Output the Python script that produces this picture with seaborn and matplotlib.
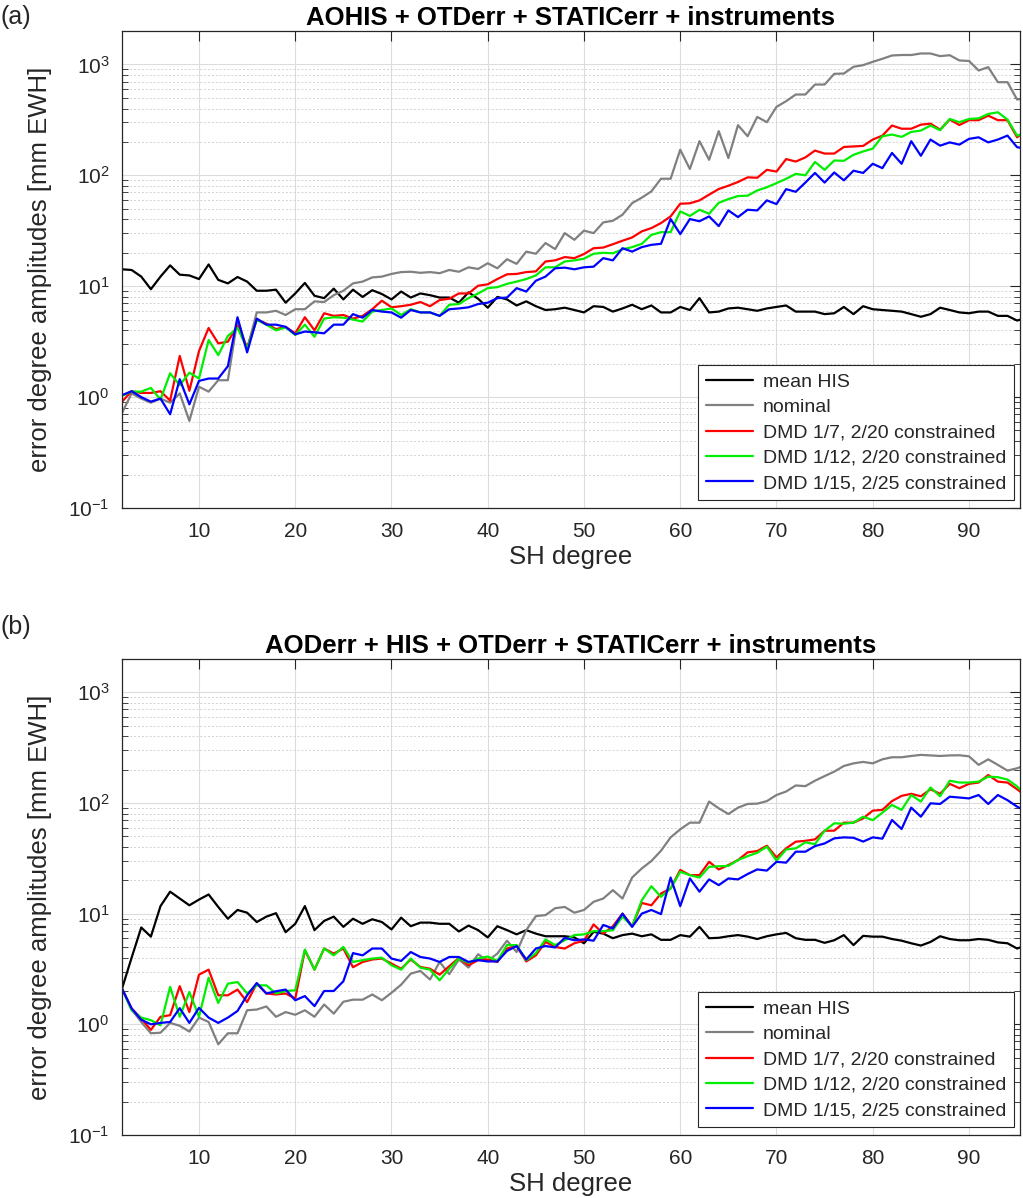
import numpy as np
import pandas as pd
import matplotlib
matplotlib.use("Agg")
import matplotlib.pyplot as plt
import matplotlib.ticker as mticker
import seaborn as sns

# ---------------- data ----------------
degrees = list(range(2, 97))

series_names = ["mean HIS", "nominal", "DMD 1/7, 2/20 constrained",
                "DMD 1/12, 2/20 constrained", "DMD 1/15, 2/25 constrained"]
series_colors = ["#000000", "#808080", "#ff0000", "#00ee00", "#0000ff"]

titles = ["AOHIS + OTDerr + STATICerr + instruments",
          "AODerr + HIS + OTDerr + STATICerr + instruments"]
panel_tags = ["(a)", "(b)"]
x_ticks = [10, 20, 30, 40, 50, 60, 70, 80, 90]

# panel (a)
a_mean_his = [14.2, 14.0, 12.2, 9.4, 12.2, 15.4, 12.7, 12.5, 11.6, 15.7,
              11.4, 10.6, 12.1, 11.0, 9.1, 9.1, 9.3, 7.1, 8.6, 10.7,
              8.2, 7.8, 9.5, 7.6, 9.3, 8.0, 9.2, 8.5, 7.6, 8.95,
              7.9, 8.6, 8.3, 7.9, 7.9, 7.1, 8.8, 7.7, 6.4, 8.0,
              7.6, 6.7, 7.3, 6.6, 6.1, 6.2, 6.4, 6.1, 5.8, 6.6,
              6.5, 5.9, 6.3, 6.8, 6.2, 6.7, 5.8, 5.8, 6.5, 6.1,
              7.8, 5.8, 5.9, 6.3, 6.4, 6.2, 6.0, 6.3, 6.5, 6.7,
              5.9, 5.9, 5.9, 5.6, 5.7, 6.5, 5.6, 6.6, 6.2, 6.1,
              6.0, 5.9, 5.6, 5.3, 5.6, 6.4, 6.1, 5.8, 5.7, 5.9,
              5.9, 5.4, 5.4, 4.9, 5.2]
a_nominal = [0.72, 1.08, 0.97, 0.89, 0.97, 0.89, 1.08, 0.61, 1.24, 1.12,
             1.42, 1.42, 5.0, 2.7, 5.8, 5.8, 6.0, 5.5, 6.2, 6.2,
             7.3, 7.2, 8.3, 9.1, 10.6, 11.0, 12.0, 12.2, 12.9, 13.4,
             13.5, 13.2, 13.4, 13.1, 14.0, 13.5, 14.8, 14.3, 16.1, 14.5,
             17.5, 15.9, 20.5, 19.6, 24.5, 21.6, 30.1, 26.2, 31.7, 30.1,
             37.6, 38.9, 44.1, 56.1, 62.8, 71.6, 93.1, 93.1, 170, 114,
             203, 138, 250, 143, 283, 225, 336, 301, 414, 466,
             535, 535, 658, 658, 822, 827, 951, 984, 1055, 1123,
             1203, 1215, 1215, 1254, 1254, 1187, 1210, 1085, 1074, 881,
             944, 691, 691, 482, 496]
a_dmd_7 = [0.91, 1.13, 1.09, 1.09, 1.13, 0.93, 2.35, 1.14, 2.6, 4.2,
           3.05, 3.16, 4.4, 2.8, 5.0, 4.6, 4.1, 4.3, 3.76, 5.25,
           4.0, 5.7, 5.4, 5.5, 5.1, 5.4, 6.2, 7.4, 6.45, 6.6,
           6.8, 7.2, 6.6, 7.5, 7.7, 8.6, 8.6, 10.1, 10.4, 11.6,
           12.8, 12.9, 13.4, 13.6, 16.7, 17.1, 18.3, 17.9, 19.5, 22.0,
           22.3, 23.9, 25.7, 27.5, 31.2, 33.4, 37.1, 42.6, 55.4, 55.9,
           59.4, 66.9, 75.2, 80.5, 87, 95.8, 95, 112, 108, 140,
           133, 145, 167, 157, 157, 180, 182, 184, 210, 228,
           281, 263, 263, 286, 292, 258, 318, 284, 314, 314,
           345, 314, 314, 220, 258]
a_dmd_12 = [1.03, 1.12, 1.12, 1.21, 0.95, 1.64, 1.28, 1.66, 1.47, 3.27,
            2.39, 3.56, 4.2, 2.75, 4.97, 4.5, 4.0, 4.25, 3.63, 4.5,
            3.5, 5.1, 5.25, 5.2, 5.0, 4.8, 5.9, 6.1, 6.3, 5.5,
            6.2, 5.8, 5.8, 5.4, 6.8, 6.9, 7.8, 8.6, 9.6, 9.8,
            10.5, 11.0, 11.6, 12.5, 14.8, 14.8, 16.7, 17.1, 17.7, 19.6,
            20.0, 19.8, 21.5, 22.5, 24.1, 29.0, 30.7, 30.7, 47.2, 43,
            48.9, 45, 56.5, 61, 65, 65.5, 73, 78, 85, 93,
            103, 100, 132, 112, 136, 135, 153, 164, 174, 225,
            233, 222, 246, 253, 281, 255, 322, 301, 322, 326,
            357, 370, 318, 228, 240]
a_dmd_15 = [1.04, 1.13, 1.0, 0.91, 0.97, 0.70, 1.45, 0.86, 1.40, 1.47,
            1.47, 1.9, 5.25, 2.53, 5.1, 4.5, 4.5, 4.3, 3.68, 3.9,
            3.84, 3.76, 4.5, 4.5, 5.6, 5.2, 6.1, 5.9, 5.8, 5.2,
            6.1, 5.8, 5.8, 5.4, 6.2, 6.3, 6.45, 6.9, 7.1, 7.8,
            7.9, 9.6, 8.95, 11.2, 12.2, 14.5, 14.7, 14.2, 14.8, 15.0,
            17.9, 17.1, 22.0, 20.5, 22.5, 23.6, 24.1, 40.3, 29.5, 40.3,
            38.5, 42.6, 34.8, 48.2, 42, 48.9, 48.2, 59.4, 55, 75,
            71, 86, 105, 86, 106, 90, 110, 105, 127, 116,
            159, 127, 203, 150, 210, 185, 198, 189, 213, 220,
            198, 210, 228, 179, 174]

# panel (b)
b_mean_his = [2.1, 4.0, 7.5, 6.2, 11.7, 15.8, 13.7, 11.9, 13.4, 14.9,
              11.5, 9.0, 10.8, 10.2, 8.4, 9.4, 10.1, 6.8, 8.1, 11.7,
              7.1, 8.6, 9.4, 7.6, 9.0, 8.1, 8.9, 8.4, 7.2, 9.2,
              7.7, 8.3, 8.3, 8.1, 8.1, 6.9, 7.8, 7.1, 6.1, 7.7,
              7.1, 6.5, 7.1, 6.6, 6.25, 6.25, 6.25, 6.1, 5.4, 6.85,
              6.6, 6.0, 6.4, 6.6, 6.25, 6.5, 5.8, 5.8, 6.4, 6.2,
              7.6, 6.0, 6.05, 6.25, 6.4, 6.2, 5.9, 6.25, 6.5, 6.7,
              6.0, 5.8, 5.8, 5.45, 5.75, 6.4, 5.2, 6.3, 6.2, 6.2,
              5.9, 5.7, 5.4, 5.15, 5.55, 6.25, 5.9, 5.75, 5.75, 5.9,
              5.8, 5.5, 5.4, 4.84, 5.2]
b_nominal = [2.1, 1.36, 1.05, 0.83, 0.84, 1.03, 0.97, 0.86, 1.15, 1.05,
             0.66, 0.83, 0.83, 1.34, 1.36, 1.45, 1.17, 1.29, 1.22, 1.34,
             1.17, 1.51, 1.25, 1.6, 1.67, 1.67, 1.86, 1.65, 1.93, 2.28,
             2.87, 3.04, 2.54, 3.66, 2.84, 3.85, 3.26, 4.3, 3.74, 4.36,
             5.7, 4.5, 7.1, 9.5, 9.7, 11.2, 11.5, 10.2, 10.8, 12.8,
             13.7, 16.3, 13.7, 21.2, 25.6, 29.9, 37, 48.9, 57.8, 66.4,
             66.4, 103, 89.5, 79.5, 90.7, 98, 98.6, 104, 118, 127,
             144, 142, 159, 175, 192, 216, 228, 235, 228, 248,
             259, 259, 266, 272, 269, 266, 269, 270, 264, 221,
             248, 221, 196, 206, 221]
b_dmd_7 = [2.1, 1.39, 1.13, 0.89, 1.17, 1.21, 2.21, 1.29, 2.81, 3.12,
           1.83, 1.83, 2.06, 1.59, 2.33, 1.9, 1.86, 1.9, 1.71, 4.67,
           3.12, 4.84, 4.36, 4.84, 3.28, 3.66, 3.85, 3.93, 3.54, 3.18,
           3.85, 3.3, 3.18, 2.81, 3.35, 3.98, 3.42, 3.8, 3.85, 3.66,
           4.84, 5.1, 3.7, 4.2, 5.55, 5.0, 4.84, 5.4, 5.7, 8.0,
           6.6, 7.7, 10.0, 7.7, 12.5, 11.9, 15.2, 16.9, 24.8, 22.3,
           22.3, 29.4, 25.1, 27.5, 30.5, 35.8, 36.8, 41.1, 32.2, 38.9,
           44.7, 45.5, 46.9, 56.2, 56.2, 66.4, 66.4, 72.6, 85.3, 86.6,
           104, 116, 121, 115, 133, 121, 149, 136, 149, 153,
           179, 156, 153, 133, 114]
b_dmd_12 = [2.1, 1.34, 1.15, 1.09, 0.98, 2.18, 1.17, 1.96, 1.17, 2.64,
            1.56, 2.33, 2.41, 1.9, 2.25, 2.25, 1.9, 2.0, 2.03, 4.74,
            3.12, 4.84, 4.2, 5.0, 3.66, 3.8, 3.93, 4.0, 3.42, 3.12,
            3.93, 3.25, 3.12, 2.5, 3.18, 3.93, 3.6, 3.93, 4.1, 3.74,
            5.2, 5.2, 3.8, 4.4, 5.85, 5.2, 5.75, 6.4, 6.5, 6.95,
            6.95, 7.1, 9.4, 7.7, 13.2, 17.7, 14.2, 16.9, 23.9, 22.3,
            21.2, 26.5, 26.8, 27, 30.5, 33.1, 35.5, 40.3, 30.1, 38,
            38.9, 44.1, 42.5, 56.2, 65.5, 65, 66.4, 75.2, 70, 81.7,
            96, 86.6, 118, 103, 138, 115, 159, 153, 153, 156,
            173, 171, 163, 141, 115]
b_dmd_15 = [2.1, 1.39, 1.1, 1.0, 1.03, 1.05, 1.4, 1.03, 1.41, 1.15,
            1.03, 1.15, 1.32, 1.83, 2.36, 1.9, 1.99, 2.06, 1.65, 1.8,
            1.46, 2.0, 2.0, 2.45, 4.4, 4.2, 4.84, 4.84, 3.93, 3.74,
            4.5, 4.06, 3.93, 3.66, 4.06, 4.06, 3.66, 3.8, 3.7, 3.7,
            4.6, 5.1, 3.85, 4.84, 5.1, 4.95, 6.05, 5.75, 5.85, 5.7,
            7.9, 7.35, 10.0, 7.6, 10.0, 10.8, 9.9, 21.2, 11.7, 20.8,
            15.8, 20.4, 18.1, 20.8, 20.4, 22.8, 25.1, 24.5, 29.4, 28.9,
            36.3, 36.3, 40.8, 43.1, 47.9, 48.9, 48.5, 44.8, 48.9, 47.6,
            70.2, 58.2, 90.8, 75.2, 99.3, 98, 114, 112, 110, 118,
            98, 118, 106, 92.7, 83.6]

panels = [
    [a_mean_his, a_nominal, a_dmd_7, a_dmd_12, a_dmd_15],
    [b_mean_his, b_nominal, b_dmd_7, b_dmd_12, b_dmd_15],
]

# ---------------- style ----------------
sns.set_style("white")
plt.rcParams["font.family"] = ["Liberation Sans", "DejaVu Sans"]
plt.rcParams["mathtext.fontset"] = "custom"
plt.rcParams["mathtext.rm"] = "Liberation Sans"
plt.rcParams["mathtext.it"] = "Liberation Sans:italic"
plt.rcParams["mathtext.bf"] = "Liberation Sans:bold"

W, H = 1023, 1198
fig = plt.figure(figsize=(W / 100, H / 100), dpi=100)
fig.patch.set_facecolor("white")

ax_boxes = [(122, 31, 1020, 508), (122, 659, 1020, 1135)]
tag_y = [17, 627]

palette = dict(zip(series_names, series_colors))

for i, (vals, box) in enumerate(zip(panels, ax_boxes)):
    x0, y0, x1, y1 = box
    ax = fig.add_axes([x0 / W, 1 - y1 / H, (x1 - x0) / W, (y1 - y0) / H])
    frames = []
    for name, v in zip(series_names, vals):
        frames.append(pd.DataFrame({"degree": degrees, "amp": v, "series": name}))
    df = pd.concat(frames, ignore_index=True)
    sns.lineplot(data=df, x="degree", y="amp", hue="series", hue_order=series_names,
                 palette=palette, estimator=None, sort=False, linewidth=1.6, ax=ax)
    ax.set_yscale("log")
    ax.set_ylim(0.1, 2000)
    ax.set_xlim(2, 95.3)
    ax.set_xticks(x_ticks)
    ax.yaxis.set_major_locator(mticker.LogLocator(base=10, numticks=10))
    ax.yaxis.set_minor_locator(mticker.LogLocator(base=10, subs=np.arange(2, 10), numticks=20))
    ax.yaxis.set_minor_formatter(mticker.NullFormatter())
    ax.grid(True, which="major", axis="both", color="#dcdcdc", linewidth=0.8, linestyle="-")
    ax.grid(True, which="minor", axis="y", color="#d2d2d2", linewidth=0.7, linestyle=(0, (2, 2)))
    ax.set_axisbelow(True)
    ax.tick_params(axis="both", which="major", direction="in", length=7, width=0.8,
                   top=True, right=True, labelsize=15, colors="#262626")
    ax.tick_params(axis="x", which="major", pad=10)
    ax.tick_params(axis="y", which="major", pad=9)
    ax.tick_params(axis="y", which="minor", direction="in", length=4, width=0.6,
                   left=True, right=True, colors="#262626")
    ax.tick_params(axis="x", which="minor", bottom=False, top=False)
    for sp in ax.spines.values():
        sp.set_color("#262626")
        sp.set_linewidth(0.9)
    ax.set_xlabel("SH degree", fontsize=18.5, color="#262626", labelpad=3)
    ax.set_ylabel("error degree amplitudes [mm EWH]", fontsize=18.5, color="#262626")
    ax.yaxis.set_label_coords(-0.078, 0.5)
    ax.set_title(titles[i], fontsize=18.5, fontweight="bold", color="#000000", pad=4)
    handles, labels = ax.get_legend_handles_labels()
    ax.legend(handles, labels, loc="lower right", bbox_to_anchor=(0.993, 0.017),
              borderaxespad=0, fontsize=14, frameon=True, fancybox=False,
              edgecolor="#262626", framealpha=1, handlelength=2.4, labelspacing=0.4,
              handletextpad=0.5, borderpad=0.4)
    ax.get_legend().get_frame().set_linewidth(0.8)
    fig.text(16 / W, 1 - tag_y[i] / H, panel_tags[i], fontsize=18, ha="center", va="center")

fig.savefig("out.png", dpi=100, facecolor="white")
